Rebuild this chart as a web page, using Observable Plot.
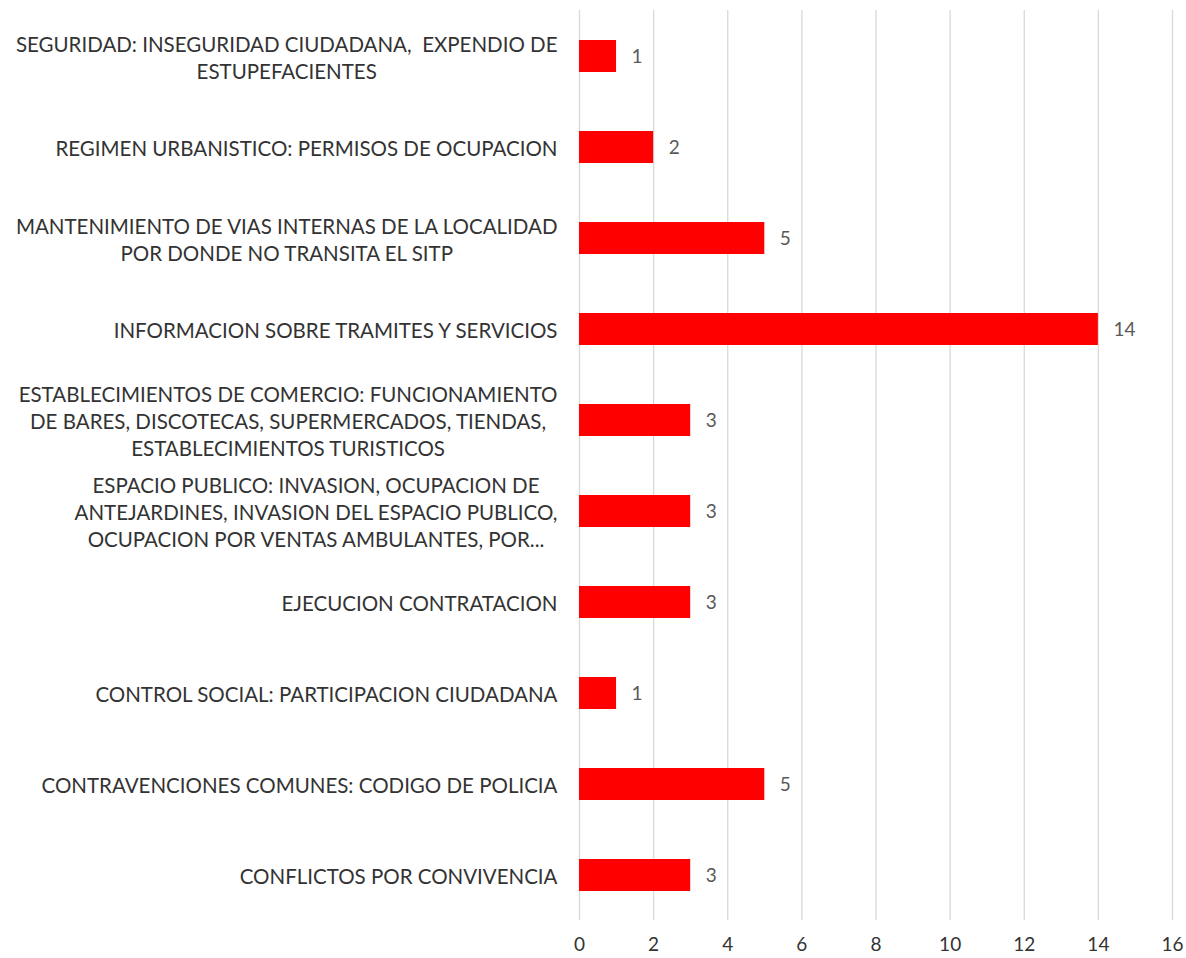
<!DOCTYPE html>
<html><head><meta charset="utf-8">
<script src="https://cdn.jsdelivr.net/npm/d3@7"></script>
<script src="https://cdn.jsdelivr.net/npm/@observablehq/plot@0.6"></script>
<style>
body{margin:0;background:#fff;}
#chart svg{display:block;}
</style>
</head><body><div id="chart"></div>
<script>
const categories = [
  "SEGURIDAD: INSEGURIDAD CIUDADANA,  EXPENDIO DE\nESTUPEFACIENTES",
  "REGIMEN URBANISTICO: PERMISOS DE OCUPACION",
  "MANTENIMIENTO DE VIAS INTERNAS DE LA LOCALIDAD\nPOR DONDE NO TRANSITA EL SITP",
  "INFORMACION SOBRE TRAMITES Y SERVICIOS",
  "ESTABLECIMIENTOS DE COMERCIO: FUNCIONAMIENTO\nDE BARES, DISCOTECAS, SUPERMERCADOS, TIENDAS,\nESTABLECIMIENTOS TURISTICOS",
  "ESPACIO PUBLICO: INVASION, OCUPACION DE\nANTEJARDINES, INVASION DEL ESPACIO PUBLICO,\nOCUPACION POR VENTAS AMBULANTES, POR...",
  "EJECUCION CONTRATACION",
  "CONTROL SOCIAL: PARTICIPACION CIUDADANA",
  "CONTRAVENCIONES COMUNES: CODIGO DE POLICIA",
  "CONFLICTOS POR CONVIVENCIA"
];
const values = [1, 2, 5, 14, 3, 3, 3, 1, 5, 3];
const xTicks = [0, 2, 4, 6, 8, 10, 12, 14, 16];

const data = categories.map((c, i) => ({category: c, value: values[i]}));
const font = "Lato, 'Open Sans', sans-serif";

const chart = Plot.plot({
  width: 1186,
  height: 958,
  marginLeft: 579,
  marginRight: 14,
  marginTop: 10,
  marginBottom: 38,
  style: {fontFamily: font, background: "#fff"},
  x: {domain: [0, 16], ticks: xTicks, axis: null},
  y: {domain: categories, paddingInner: 0.65, paddingOuter: 0.325, label: null, axis: null},
  marks: [
    Plot.gridX(xTicks, {stroke: "#d9d9d9", strokeOpacity: 1, strokeWidth: 1.3}),
    Plot.barX(data, {x: "value", y: "category", fill: "#ff0000"}),
    Plot.text(data, {x: "value", y: "category", text: d => String(d.value), dx: 15, textAnchor: "start", fill: "#595959", fontSize: 19}),
    Plot.axisX({ticks: xTicks, tickSize: 0, tickPadding: 17, label: null, fontSize: 19, color: "#333"}),
    Plot.ruleY([0], {frameAnchor: "bottom", stroke: "#000", strokeWidth: 1.3}),
    Plot.axisY({tickSize: 0, tickPadding: 22, label: null, fontSize: 20.5, lineHeight: 1.33, color: "#333"})
  ]
});
document.getElementById("chart").appendChild(chart);
// center-align multi-line labels within their right-aligned block
const svgLeft = chart.getBoundingClientRect().left;
Array.from(chart.querySelectorAll("text")).forEach(t => {
  const r = t.getBoundingClientRect();
  if (r.right - svgLeft > 575) return;
  const tspans = t.querySelectorAll("tspan");
  if (tspans.length < 2) return;
  const w = t.getBBox().width;
  t.setAttribute("text-anchor", "middle");
  t.style.textAnchor = "middle";
  tspans.forEach(s => { s.setAttribute("x", -w / 2); s.style.textAnchor = "middle"; });
});
</script>
</body></html>
